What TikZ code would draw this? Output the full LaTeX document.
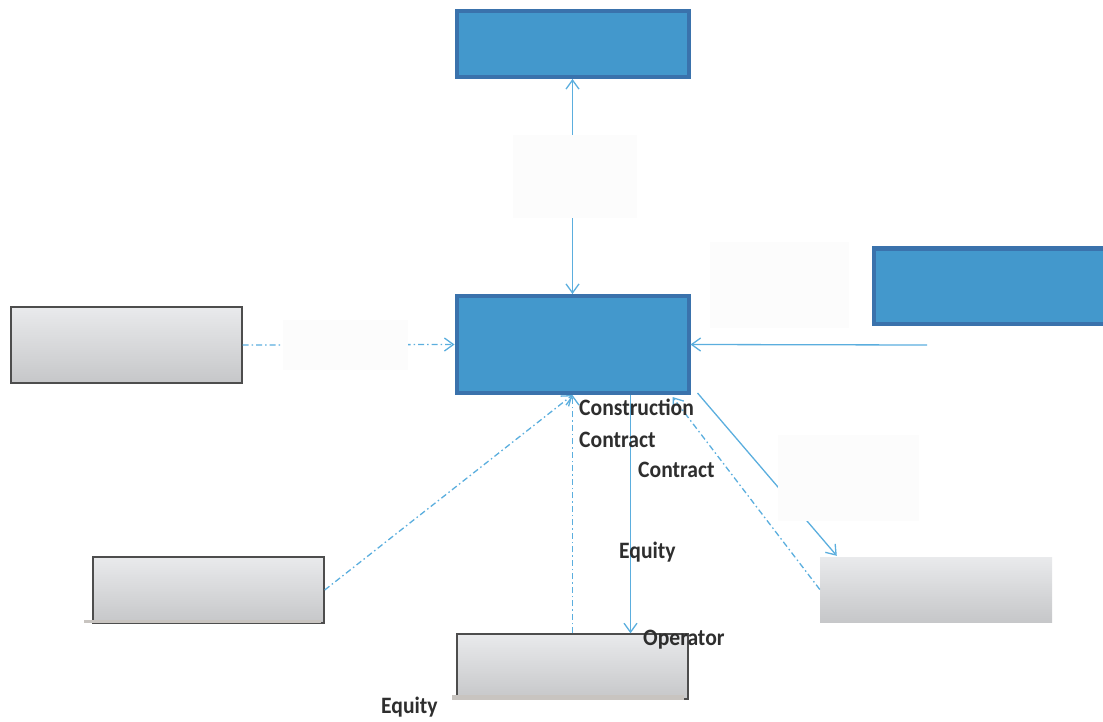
\documentclass[tikz,border=0pt]{standalone}
\usepackage{fontspec}
\setmainfont{Carlito}
\usetikzlibrary{arrows.meta,calc}
\definecolor{boxblue}{HTML}{4398CC}
\definecolor{boxblueedge}{HTML}{3A72AC}
\definecolor{linkblue}{HTML}{5BAEDE}
\definecolor{greytop}{HTML}{E9EAEC}
\definecolor{greybot}{HTML}{C6C7C9}
\definecolor{greyedge}{HTML}{4D4D4D}
\definecolor{greybar}{HTML}{C8C4C0}
\definecolor{labelwhite}{HTML}{FCFCFC}
\definecolor{txt}{HTML}{2E2E2E}
\begin{document}
\begin{tikzpicture}[x=1pt,y=-1pt,
  bluebox/.style={draw=boxblueedge,fill=boxblue,line width=4pt,minimum width=#1,inner sep=0pt},
  greybox/.style={top color=greytop,bottom color=greybot,inner sep=0pt},
  greyedged/.style={greybox,draw=greyedge,line width=1.4pt},
  blank/.style={fill=labelwhite,inner sep=0pt},
  conn/.style={draw=linkblue,line width=1.3pt},
  dashdot/.style={conn,dash pattern=on 6pt off 3pt on 1.5pt off 3pt},
  tip/.style={-{Straight Barb[length=9pt,width=13pt]}},
  lbl/.style={anchor=base west,inner sep=0pt,text=txt,xscale=0.92,font=\fontsize{23.5}{25}\selectfont\bfseries}
]
\useasboundingbox (0,0) rectangle (1103,722);
\clip (0,0) rectangle (1103,722);
% boxes
\node[bluebox=232pt,minimum height=66pt] (top) at (572.5,44) {};
\node[bluebox=232pt,minimum height=97pt] (center) at (572.5,344.5) {};
\node[bluebox=232pt,minimum height=75pt] (right) at (990,286) {};
\node[greyedged,minimum width=231pt,minimum height=76pt] (left) at (126.5,345) {};
\node[greyedged,minimum width=231pt,minimum height=66pt] (bl) at (208.5,590) {};
\node[greyedged,minimum width=231pt,minimum height=65pt] (bc) at (572.5,666.5) {};
\node[greybox,minimum width=232pt,minimum height=65pt] (rb) at (936,589.5) {};
% grey bars at the foot of two boxes
\coordinate (blbarA) at ($(bl.south west)+(-8,-2.5)$);
\coordinate (blbarB) at ($(bl.south east)+(-4,-2.5)$);
\draw[greybar,line width=3pt] (blbarA) -- (blbarB);
\coordinate (bcbarA) at ($(bc.south west)+(-4,-2)$);
\coordinate (bcbarB) at ($(bc.south east)+(-5,-2)$);
\draw[greybar,line width=5pt] (bcbarA) -- (bcbarB);
% connectors
\draw[conn,tip] (center.north) -- (top.south);
\draw[conn,tip] (top.south) -- (center.north);
\draw[dashdot,tip] (left.east) -- (center.west);
\coordinate (rfree) at (927,345);
\draw[conn,tip] (rfree) -- (center.east);
\coordinate (dA) at ($(center.south east)+(7,-2)$);
\coordinate (dB) at ($(rb.north west)+(17,-1)$);
\draw[conn,tip] (dA) -- (dB);
\coordinate (eB) at ($(center.south east)+(-18,2)$);
\draw[dashdot,tip] (rb.west) -- (eB);
\draw[dashdot,tip] (bl.east) -- (center.south);
\draw[dashdot,tip] (bc.north) -- (center.south);
\coordinate (vA) at ($(center.south)+(58,0)$);
\coordinate (vB) at ($(bc.north)+(58,0)$);
\draw[conn,tip] (vA) -- (vB);
% near-white label patches over the connectors
\node[blank,minimum width=124pt,minimum height=83pt] (w1) at (575,176.5) {};
\node[blank,minimum width=125pt,minimum height=50pt] (w2) at (345,345) {};
\node[blank,minimum width=139pt,minimum height=85pt] (w3) at (779.5,285) {};
\node[blank,minimum width=141pt,minimum height=86pt] (w4) at (848.5,478) {};
% labels
\node[lbl] (t1) at (579,415) {Construction};
\node[lbl] (t2) at (579,447) {Contract};
\node[lbl] (t3) at (638,477) {Contract};
\node[lbl] (t4) at (619,558) {Equity};
\node[lbl] (t5) at (643,645) {Operator};
\node[lbl] (t6) at (381,713) {Equity};
\end{tikzpicture}
\end{document}
